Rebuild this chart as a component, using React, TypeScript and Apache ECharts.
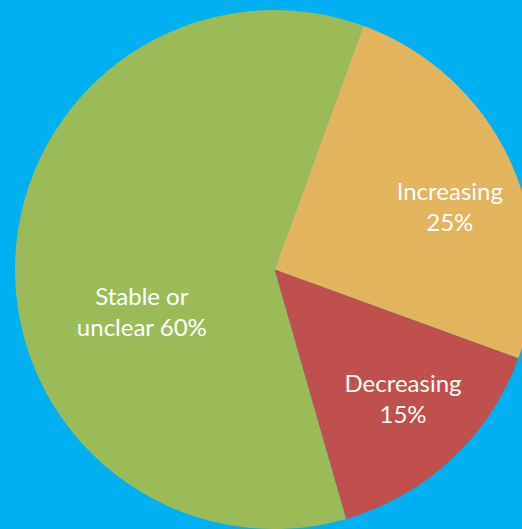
import React, { useEffect, useRef } from "react";
import * as echarts from "echarts";

const categories = ["Increasing", "Decreasing", "Stable or unclear"];
const values = [25, 15, 60];
const labelTexts = ["Increasing\n25%", "Decreasing\n15%", "Stable or\nunclear 60%"];
const colors = ["#E2B45E", "#C0504D", "#9BBB59"];
const labelOffsets: [number, number][] = [
  [55, -7],
  [38, 31],
  [0, 46],
];

export default function App() {
  const ref = useRef<HTMLDivElement>(null);
  useEffect(() => {
    document.body.style.margin = "0";
    if (!ref.current) return;
    const chart = echarts.init(ref.current, undefined, { renderer: "svg" });
    chart.setOption({
      animation: false,
      backgroundColor: "#00B0F0",
      series: [
        {
          type: "pie",
          center: [274.5, 269.5],
          radius: 259.5,
          startAngle: 70,
          clockwise: true,
          avoidLabelOverlap: false,
          label: {
            show: true,
            position: "inside",
            color: "#FFFFFF",
            fontFamily: "Lato",
            fontSize: 24,
            lineHeight: 31,
            align: "center",
          },
          labelLine: { show: false },
          emphasis: { disabled: true },
          itemStyle: { borderWidth: 0 },
          data: categories.map((name, i) => ({
            name,
            value: values[i],
            itemStyle: { color: colors[i] },
            label: { formatter: labelTexts[i], offset: labelOffsets[i] },
          })),
        },
      ],
    });
    return () => chart.dispose();
  }, []);
  return <div ref={ref} style={{ width: 522, height: 529 }} />;
}
